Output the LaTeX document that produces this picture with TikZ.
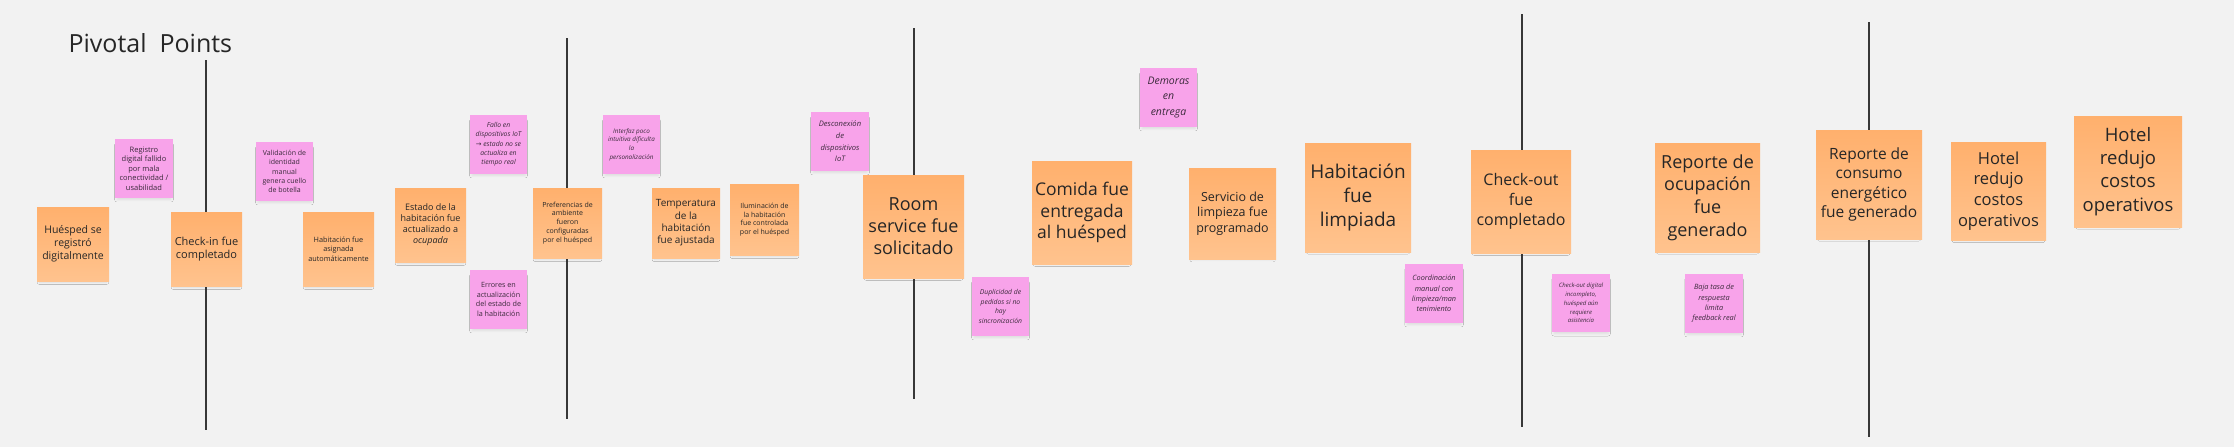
\documentclass[tikz,border=0pt]{standalone}
\usepackage{fontspec}
\setmainfont{Open Sans}
\newfontfamily\arrowfont{DejaVu Sans}
\usetikzlibrary{positioning}
\usetikzlibrary{shadows.blur}

\definecolor{boardbg}{HTML}{F2F2F2}
\definecolor{orangetop}{HTML}{FFB06D}
\definecolor{orangebot}{HTML}{FFC38E}
\definecolor{pinknote}{HTML}{F8A3EA}
\definecolor{eventtext}{HTML}{262626}
\definecolor{issuetext}{HTML}{3B2A3B}
\definecolor{divline}{HTML}{383838}

\tikzset{
  txt/.style 2 args={font=\fontsize{#1}{#2}\selectfont},
  softshadow/.style={blur shadow={shadow xshift=0pt,shadow yshift=-4pt,shadow scale=0.93,
    shadow blur radius=2.5pt,shadow blur steps=5,shadow opacity=9}},
  eventnote/.style={rectangle,inner sep=0pt,align=center,text=eventtext,
    top color=orangetop,bottom color=orangebot,softshadow},
  issuenote/.style={rectangle,inner sep=0pt,align=center,text=issuetext,fill=pinknote,
    minimum width=57pt,minimum height=59pt,softshadow},
  divider/.style={draw=divline,line width=1.8pt}
}

\begin{document}
\begin{tikzpicture}[x=1pt,y=-1pt]
\useasboundingbox[fill=boardbg] (0,0) rectangle (2234,447);

\draw[divider] (206,60) -- (206,430);
\draw[divider] (567,38) -- (567,419);
\draw[divider] (914,28) -- (914,399);
\draw[divider] (1522,14) -- (1522,427);
\draw[divider] (1869,22) -- (1869,437);

\node[anchor=base west,text=eventtext,font=\fontsize{25}{30}\selectfont] (title) at (65,52) {Pivotal\ \ Points};

\node[eventnote,minimum width=72pt,minimum height=74pt,txt={10.5}{13}] (hues) at (73,244) {Huésped se\\registró\\digitalmente};
\node[eventnote,minimum width=71pt,minimum height=74pt,txt={11}{13.7}] (checkin) at (206.5,249) {Check-in fue\\completado};
\node[eventnote,minimum width=71pt,minimum height=74pt,txt={7.3}{9.5}] (asign) at (338.5,249) {Habitación fue\\asignada\\automáticamente};
\node[eventnote,minimum width=71pt,minimum height=74pt,txt={9}{11.1}] (estado) at (430.5,225) {Estado de la\\habitación fue\\actualizado a\\\textit{ocupada}};
\node[eventnote,minimum width=69pt,minimum height=70pt,txt={7}{8.9}] (prefs) at (567.5,223) {Preferencias de\\ambiente\\fueron\\configuradas\\por el huésped};
\node[eventnote,minimum width=68pt,minimum height=70pt,txt={10}{12.3}] (temp) at (686,223) {Temperatura\\de la\\habitación\\fue ajustada};
\node[eventnote,minimum width=69pt,minimum height=71pt,txt={7}{8.6}] (ilum) at (764.5,219.5) {Iluminación de\\la habitación\\fue controlada\\por el huésped};
\node[eventnote,minimum width=101pt,minimum height=103pt,txt={18}{22}] (room) at (913.5,226.5) {Room\\service fue\\solicitado};
\node[eventnote,minimum width=100pt,minimum height=103pt,txt={17.5}{21.5}] (comida) at (1082,212.5) {Comida fue\\entregada\\al huésped};
\node[eventnote,minimum width=87pt,minimum height=91pt,txt={12.5}{15.5}] (limpprog) at (1232.5,213.5) {Servicio de\\limpieza fue\\programado};
\node[eventnote,minimum width=106pt,minimum height=109pt,txt={19}{23.7}] (limpiada) at (1358,197.5) {Habitación\\fue\\limpiada};
\node[eventnote,minimum width=100pt,minimum height=103pt,txt={16}{20}] (checkout) at (1521,201.5) {Check-out\\fue\\completado};
\node[eventnote,minimum width=105pt,minimum height=109pt,txt={18}{22.6}] (ocup) at (1707.5,197.5) {Reporte de\\ocupación\\fue\\generado};
\node[eventnote,minimum width=106pt,minimum height=109pt,txt={15.5}{19.4}] (consumo) at (1869,184.5) {Reporte de\\consumo\\energético\\fue generado};
\node[eventnote,minimum width=95pt,minimum height=98pt,txt={16.5}{20.6}] (costosa) at (1998.5,191) {Hotel\\redujo\\costos\\operativos};
\node[eventnote,minimum width=108pt,minimum height=111pt,txt={18.5}{23.2}] (costosb) at (2128,171.5) {Hotel\\redujo\\costos\\operativos};

\node[issuenote,minimum width=58pt,txt={7.5}{9.6}] (registro) at (144,168.5) {Registro\\digital fallido\\por mala\\conectividad /\\usabilidad};
\node[issuenote,txt={7}{9.4}] (valid) at (284.5,171.5) {Validación de\\identidad\\manual\\genera cuello\\de botella};
\node[issuenote,font=\fontsize{6.8}{9.3}\selectfont\itshape] (fallo) at (498.5,144.5) {Fallo en\\dispositivos IoT\\{\arrowfont\upshape →} estado no se\\actualiza en\\tiempo real};
\node[issuenote,txt={7.2}{9.6}] (errores) at (498.5,299.5) {Errores en\\actualización\\del estado de\\la habitación};
\node[issuenote,font=\fontsize{6.3}{8.7}\selectfont\itshape] (interfaz) at (631.5,144.5) {Interfaz poco\\intuitiva dificulta\\la\\personalización};
\node[issuenote,minimum width=58pt,font=\fontsize{7.6}{11.7}\selectfont\itshape] (descon) at (840,141.5) {Desconexión\\de\\dispositivos\\IoT};
\node[issuenote,font=\fontsize{6.8}{9.6}\selectfont\itshape] (duplic) at (1000.5,306.5) {Duplicidad de\\pedidos si no\\hay\\sincronización};
\node[issuenote,font=\fontsize{10.5}{15.3}\selectfont\itshape] (demoras) at (1168.5,97.5) {Demoras\\en\\entrega};
\node[issuenote,minimum width=58pt,font=\fontsize{7.3}{10.4}\selectfont\itshape] (coord) at (1434,293.5) {Coordinación\\manual con\\limpieza/man\\tenimiento};
\node[issuenote,minimum width=58pt,minimum height=58pt,font=\fontsize{6}{8.8}\selectfont\itshape] (chkdig) at (1581,303) {Check-out digital\\incompleto,\\huésped aún\\requiere\\asistencia};
\node[issuenote,minimum width=58pt,font=\fontsize{7.3}{10.3}\selectfont\itshape] (baja) at (1714,303.5) {Baja tasa de\\respuesta\\limita\\feedback real};

\end{tikzpicture}
\end{document}
